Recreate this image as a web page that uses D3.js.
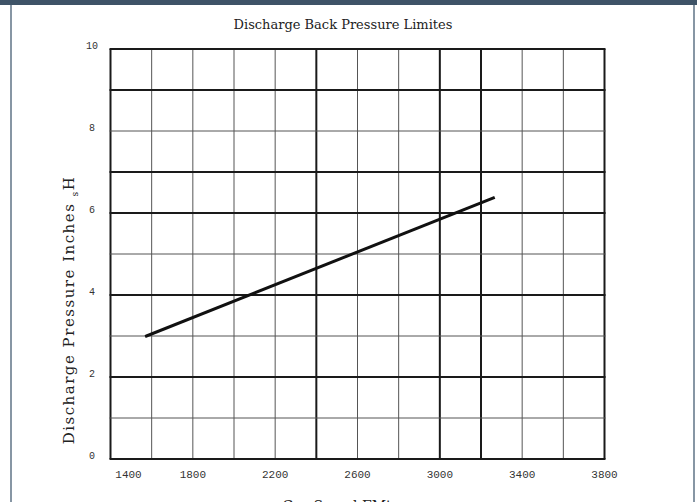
<!DOCTYPE html>
<html>
<head>
<meta charset="utf-8">
<script src="https://cdn.jsdelivr.net/npm/d3@7"></script>
<style>
  html, body { margin: 0; padding: 0; background: #fff; }
  svg { display: block; }
</style>
</head>
<body>
<svg id="chart"></svg>
<script>
const chartTitle = "Discharge Back Pressure Limites";
const xTitle = "Gas Speed FMt";
const yTitleMain = "Discharge Pressure Inches ";

// the single line (gas speed, pressure)
const lineSpeeds = [1575, 3260];
const linePressures = [3.0, 6.37];

const xTickValues = [1400, 1800, 2200, 2600, 3000, 3400, 3800];
const yTickValues = [0, 2, 4, 6, 8, 10];
const xGridValues = d3.range(1400, 3801, 200);
const yGridValues = d3.range(0, 11, 1);
const xHeavy = [1400, 2400, 3000, 3200, 3800];
const yHeavy = [0, 2, 4, 6, 7, 9, 10];

const width = 697;
const height = 502;
const svg = d3.select("#chart").attr("width", width).attr("height", height);

// frame: dark top band, grey side rules
svg.append("rect").attr("x", 0).attr("y", 0).attr("width", width).attr("height", 5).attr("fill", "#3e5367");
svg.append("rect").attr("x", 10).attr("y", 5).attr("width", 2).attr("height", height).attr("fill", "#8796a4");
svg.append("rect").attr("x", 693).attr("y", 5).attr("width", 2).attr("height", height).attr("fill", "#8796a4");

const x = d3.scaleLinear().domain([1400, 3800]).range([110.5, 604.5]);
const y = d3.scaleLinear().domain([0, 10]).range([459, 49]);

const grid = svg.append("g");
grid.selectAll("line.v")
  .data(xGridValues)
  .join("line")
  .attr("class", "v")
  .attr("x1", (d) => x(d)).attr("x2", (d) => x(d))
  .attr("y1", y(0)).attr("y2", y(10))
  .attr("stroke", (d) => (xHeavy.includes(d) ? "#1a1a1a" : "#555"))
  .attr("stroke-width", (d) => (xHeavy.includes(d) ? 2 : 1));

grid.selectAll("line.h")
  .data(yGridValues)
  .join("line")
  .attr("class", "h")
  .attr("x1", x(1400) - 1).attr("x2", x(3800) + 1)
  .attr("y1", (d) => y(d)).attr("y2", (d) => y(d))
  .attr("stroke", (d) => (yHeavy.includes(d) ? "#1a1a1a" : "#555"))
  .attr("stroke-width", (d) => (yHeavy.includes(d) ? 2 : 1));

const line = d3.line().x((d) => x(d[0])).y((d) => y(d[1]));
svg.append("path")
  .datum(d3.zip(lineSpeeds, linePressures))
  .attr("d", line)
  .attr("fill", "none")
  .attr("stroke", "#111")
  .attr("stroke-width", 3)
  .attr("stroke-linecap", "square");

// tick labels
svg.append("g")
  .selectAll("text")
  .data(yTickValues)
  .join("text")
  .attr("x", 92)
  .attr("y", (d) => y(d) - 4)
  .attr("dy", "0.35em")
  .attr("text-anchor", "middle")
  .attr("font-family", "'Liberation Mono', monospace")
  .attr("font-size", 10)
  .attr("fill", "#333")
  .text((d) => d);

svg.append("g")
  .selectAll("text")
  .data(xTickValues)
  .join("text")
  .attr("x", (d) => (d === 1400 ? x(d) + 18 : x(d)))
  .attr("y", 474)
  .attr("dy", "0.35em")
  .attr("text-anchor", "middle")
  .attr("font-family", "'Liberation Mono', monospace")
  .attr("font-size", 11)
  .attr("fill", "#333")
  .text((d) => d);

// titles
svg.append("text")
  .attr("x", 343)
  .attr("y", 29)
  .attr("text-anchor", "middle")
  .attr("font-family", "'DejaVu Serif', serif")
  .attr("font-size", 13)
  .attr("fill", "#222")
  .text(chartTitle);

const yTitle = svg.append("text")
  .attr("transform", "translate(74,310) rotate(-90)")
  .attr("text-anchor", "middle")
  .attr("font-family", "'DejaVu Serif', serif")
  .attr("font-size", 15)
  .attr("letter-spacing", 1.5)
  .attr("fill", "#222");
yTitle.append("tspan").text(yTitleMain);
yTitle.append("tspan").attr("font-size", 9).attr("dy", 4).text("s");
yTitle.append("tspan").attr("dy", -4).text("H");

svg.append("text")
  .attr("x", 337)
  .attr("y", 511)
  .attr("text-anchor", "middle")
  .attr("font-family", "'DejaVu Serif', serif")
  .attr("font-size", 14)
  .attr("fill", "#222")
  .text(xTitle);
</script>
</body>
</html>
